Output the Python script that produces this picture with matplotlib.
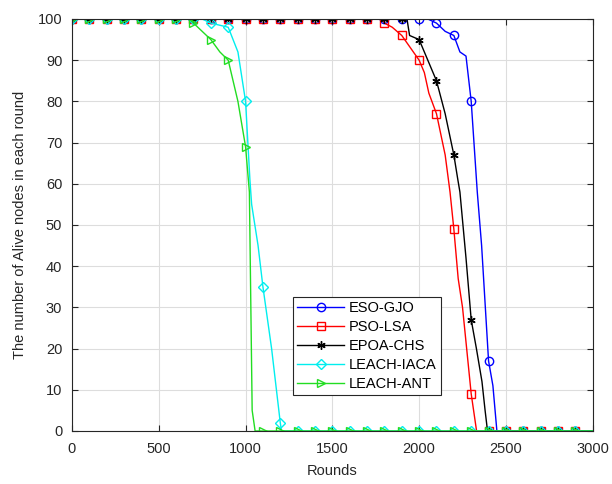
import matplotlib
matplotlib.use("Agg")
import matplotlib.pyplot as plt

plt.rcParams['font.family'] = ['Liberation Sans', 'DejaVu Sans']

# alive nodes per round (markers every 100 rounds)
gjo_x = [0, 100, 200, 300, 400, 500, 600, 700, 800, 900, 1000, 1100, 1200, 1300, 1400, 1500, 1600, 1700, 1800, 1900,
         2000, 2050, 2100, 2150, 2200, 2235, 2270, 2300, 2335, 2360, 2380, 2400, 2425, 2448,
         2500, 2600, 2700, 2800, 2900, 3000]
gjo_y = [100, 100, 100, 100, 100, 100, 100, 100, 100, 100, 100, 100, 100, 100, 100, 100, 100, 100, 100, 100,
         100, 100, 99, 97, 96, 92, 91, 80, 58, 45, 31, 17, 11, 0,
         0, 0, 0, 0, 0, 0]

lsa_x = [0, 100, 200, 300, 400, 500, 600, 700, 800, 900, 1000, 1100, 1200, 1300, 1400, 1500, 1600, 1700, 1790, 1800,
         1845, 1900, 1950, 2000, 2030, 2056, 2100, 2150, 2178, 2200, 2225, 2250, 2300, 2331,
         2400, 2500, 2600, 2700, 2800, 2900, 3000]
lsa_y = [100, 100, 100, 100, 100, 100, 100, 100, 100, 100, 100, 100, 100, 100, 100, 100, 100, 100, 100, 99,
         98, 96, 93, 90, 87, 82, 77, 67, 58, 49, 37, 30, 9, 0,
         0, 0, 0, 0, 0, 0, 0]

chs_x = [0, 100, 200, 300, 400, 500, 600, 700, 800, 900, 1000, 1100, 1200, 1300, 1400, 1500, 1600, 1700, 1800, 1900,
         1930, 1945, 2000, 2050, 2100, 2150, 2200, 2223, 2235, 2270, 2300, 2330, 2362, 2380, 2394,
         2400, 2500, 2600, 2700, 2800, 2900, 3000]
chs_y = [100, 100, 100, 100, 100, 100, 100, 100, 100, 100, 100, 100, 100, 100, 100, 100, 100, 100, 100, 100,
         100, 96, 95, 90, 85, 77, 67, 61, 58, 42, 27, 20, 12, 5, 0,
         0, 0, 0, 0, 0, 0, 0]

iaca_x = [0, 100, 200, 300, 400, 500, 600, 700, 750, 800, 900, 956, 1000, 1025, 1035, 1072, 1100, 1150, 1200, 1207,
          1300, 1400, 1500, 1600, 1700, 1800, 1900, 2000, 2100, 2200, 2300, 2400, 2500, 2600, 2700, 2800, 2900, 3000]
iaca_y = [100, 100, 100, 100, 100, 100, 100, 100, 100, 99, 98, 92, 80, 61, 55, 45, 35, 20, 2, 0,
          0, 0, 0, 0, 0, 0, 0, 0, 0, 0, 0, 0, 0, 0, 0, 0, 0, 0]

ant_x = [0, 100, 200, 300, 400, 500, 600, 680, 700, 750, 800, 852, 900, 956, 1000, 1022, 1038, 1055, 1100, 1200,
         1300, 1400, 1500, 1600, 1700, 1800, 1900, 2000, 2100, 2200, 2300, 2400, 2500, 2600, 2700, 2800, 2900, 3000]
ant_y = [100, 100, 100, 100, 100, 100, 100, 100, 99, 97, 95, 92, 90, 80, 69, 58, 5, 0, 0, 0,
         0, 0, 0, 0, 0, 0, 0, 0, 0, 0, 0, 0, 0, 0, 0, 0, 0, 0]

series = [
    ("ESO-GJO", gjo_x, gjo_y, "#0000ff", "o"),
    ("PSO-LSA", lsa_x, lsa_y, "#ff0000", "s"),
    ("EPOA-CHS", chs_x, chs_y, "#000000", (6, 2, 0)),
    ("LEACH-IACA", iaca_x, iaca_y, "#00eeee", "D"),
    ("LEACH-ANT", ant_x, ant_y, "#22dd22", ">"),
]

fig = plt.figure(figsize=(6.12, 4.84), dpi=100)
ax = fig.add_axes([72 / 612, 53 / 484, (592.7 - 72) / 612, (431 - 19) / 484])

for name, xs, ys, col, mk in series:
    marks = [i for i, r in enumerate(xs) if r % 100 == 0 and r < 3000]
    ms = 5 if mk == "D" else 6
    ax.plot(xs, ys, color=col, lw=1.0, marker=mk, markevery=marks, ms=ms,
            markerfacecolor="none", markeredgecolor=col, markeredgewidth=1.0, label=name)

ax.set_xlim(0, 3000)
ax.set_ylim(0, 100)
ax.set_xticks(range(0, 3001, 500))
ax.set_yticks(range(0, 101, 10))
ax.grid(True, color="#dddddd", lw=0.8)
ax.set_axisbelow(True)
ax.tick_params(direction="in", top=True, right=True, labelsize=10.5, colors="#262626", length=4)
ax.tick_params(axis="x", pad=8)
ax.tick_params(axis="y", pad=7)
for sp in ax.spines.values():
    sp.set_color("#262626")
    sp.set_linewidth(0.8)

ax.set_xlabel("Rounds", fontsize=10.5, color="#262626", labelpad=6)
ax.set_ylabel("The number of Alive nodes in each round", fontsize=10.5, color="#262626", labelpad=8)

leg = ax.legend(loc="upper left", bbox_to_anchor=((293 - 72) / 520.7, (431 - 297) / 412),
                borderaxespad=0, fancybox=False, framealpha=1, edgecolor="#262626",
                fontsize=10.5, handlelength=3.2, handletextpad=0.35, labelspacing=0.33, borderpad=0.3)
leg.get_frame().set_linewidth(0.8)

fig.savefig("out.png", dpi=100)
